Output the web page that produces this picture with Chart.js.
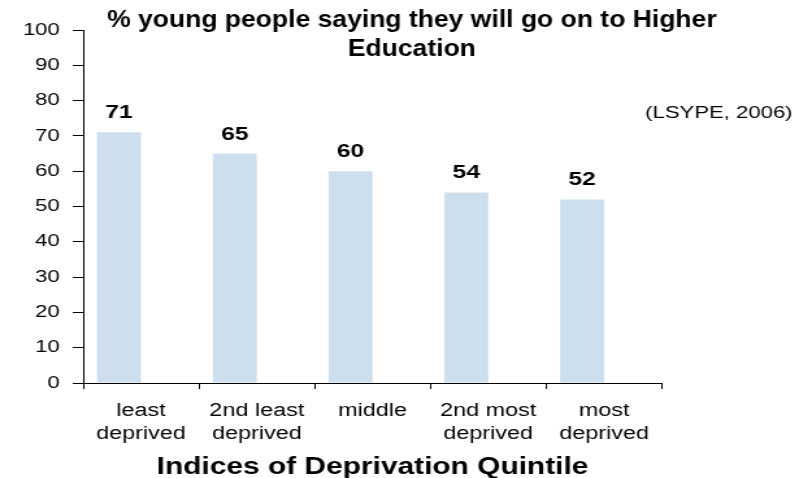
<!DOCTYPE html>
<html>
<head>
<meta charset="utf-8">
<script src="https://cdn.jsdelivr.net/npm/chart.js@4"></script>
<style>
  body { margin: 0; background: #fff; }
  #chart { display: block; }
</style>
</head>
<body>
<canvas id="chart" width="625" height="478" style="width:812px;height:478px"></canvas>
<script>
// values
const categories = [['least', 'deprived'], ['2nd least', 'deprived'], ['middle'], ['2nd most', 'deprived'], ['most', 'deprived']];
const percentages = [71, 65, 60, 54, 52];
const yTicks = [0, 10, 20, 30, 40, 50, 60, 70, 80, 90, 100];
const titleLines = ['% young people saying they will go on to Higher', 'Education'];
const sourceNote = '(LSYPE, 2006)';
const xTitle = 'Indices of Deprivation Quintile';

const FONT = '"Liberation Sans", Arial, Helvetica, sans-serif';

// the original image is stretched sideways, the canvas is drawn narrower and widened by css
const annotations = {
    id: 'annotations',
    afterDatasetsDraw(chart) {
        const ctx = chart.ctx;
        ctx.save();
        ctx.fillStyle = '#000';
        ctx.textAlign = 'center';
        ctx.textBaseline = 'alphabetic';
        ctx.font = 'bold 19px ' + FONT;
        chart.getDatasetMeta(0).data.forEach((bar, i) => {
            ctx.fillText(String(percentages[i]), bar.x, bar.y - 14);
        });
        ctx.restore();
    },
    afterDraw(chart) {
        const ctx = chart.ctx;
        ctx.save();
        ctx.fillStyle = '#000';
        ctx.textBaseline = 'alphabetic';

        // title
        ctx.font = 'bold 24px ' + FONT;
        ctx.textAlign = 'center';
        ctx.translate(317, 0);
        ctx.scale(0.85, 1);
        ctx.fillText(titleLines[0], 0, 27);
        ctx.fillText(titleLines[1], 0, 56);
        ctx.restore();

        // source note
        ctx.save();
        ctx.fillStyle = '#000';
        ctx.font = '17px ' + FONT;
        ctx.textAlign = 'right';
        ctx.fillText(sourceNote, 610, 118);
        ctx.restore();
    }
};

new Chart(document.getElementById('chart'), {
    type: 'bar',
    data: {
        labels: categories,
        datasets: [
            {
                data: percentages,
                backgroundColor: 'rgb(205,222,236)',
                borderWidth: 0
            },
            {
                // empty second series, keeps the bars left of the category centre
                data: percentages.map(() => null),
                backgroundColor: 'rgba(0,0,0,0)'
            }
        ]
    },
    options: {
        responsive: false,
        animation: false,
        devicePixelRatio: 1,
        categoryPercentage: 0.76,
        barPercentage: 1.0,
        layout: { padding: { top: 30, right: 115.5, left: 0, bottom: 0 } },
        plugins: {
            legend: { display: false },
            title: { display: false },
            tooltip: { enabled: false }
        },
        scales: {
            x: {
                grid: { display: true, drawOnChartArea: false, drawTicks: true, tickLength: 6, color: '#000', lineWidth: 1, offset: true },
                border: { display: true, color: '#000', width: 1 },
                ticks: {
                    color: '#000',
                    font: { family: FONT, size: 18, lineHeight: 1.3 },
                    padding: 10,
                    maxRotation: 0,
                    autoSkip: false
                },
                title: {
                    display: true,
                    text: xTitle,
                    color: '#000',
                    font: { family: FONT, size: 23, weight: 'bold', lineHeight: 0.9 },
                    padding: { top: 0, bottom: 0 }
                },
                afterFit: (scale) => { scale.height = 95; }
            },
            y: {
                min: 0,
                max: 100,
                afterBuildTicks: (scale) => { scale.ticks = yTicks.map(v => ({ value: v })); },
                grid: { display: true, drawOnChartArea: false, drawTicks: true, tickLength: 8, color: '#000', lineWidth: 1 },
                border: { display: true, color: '#000', width: 1 },
                ticks: {
                    color: '#000',
                    font: { family: FONT, size: 17 },
                    padding: 10
                },
                afterFit: (scale) => { scale.width = 64; }
            }
        }
    },
    plugins: [annotations]
});
</script>
</body>
</html>
